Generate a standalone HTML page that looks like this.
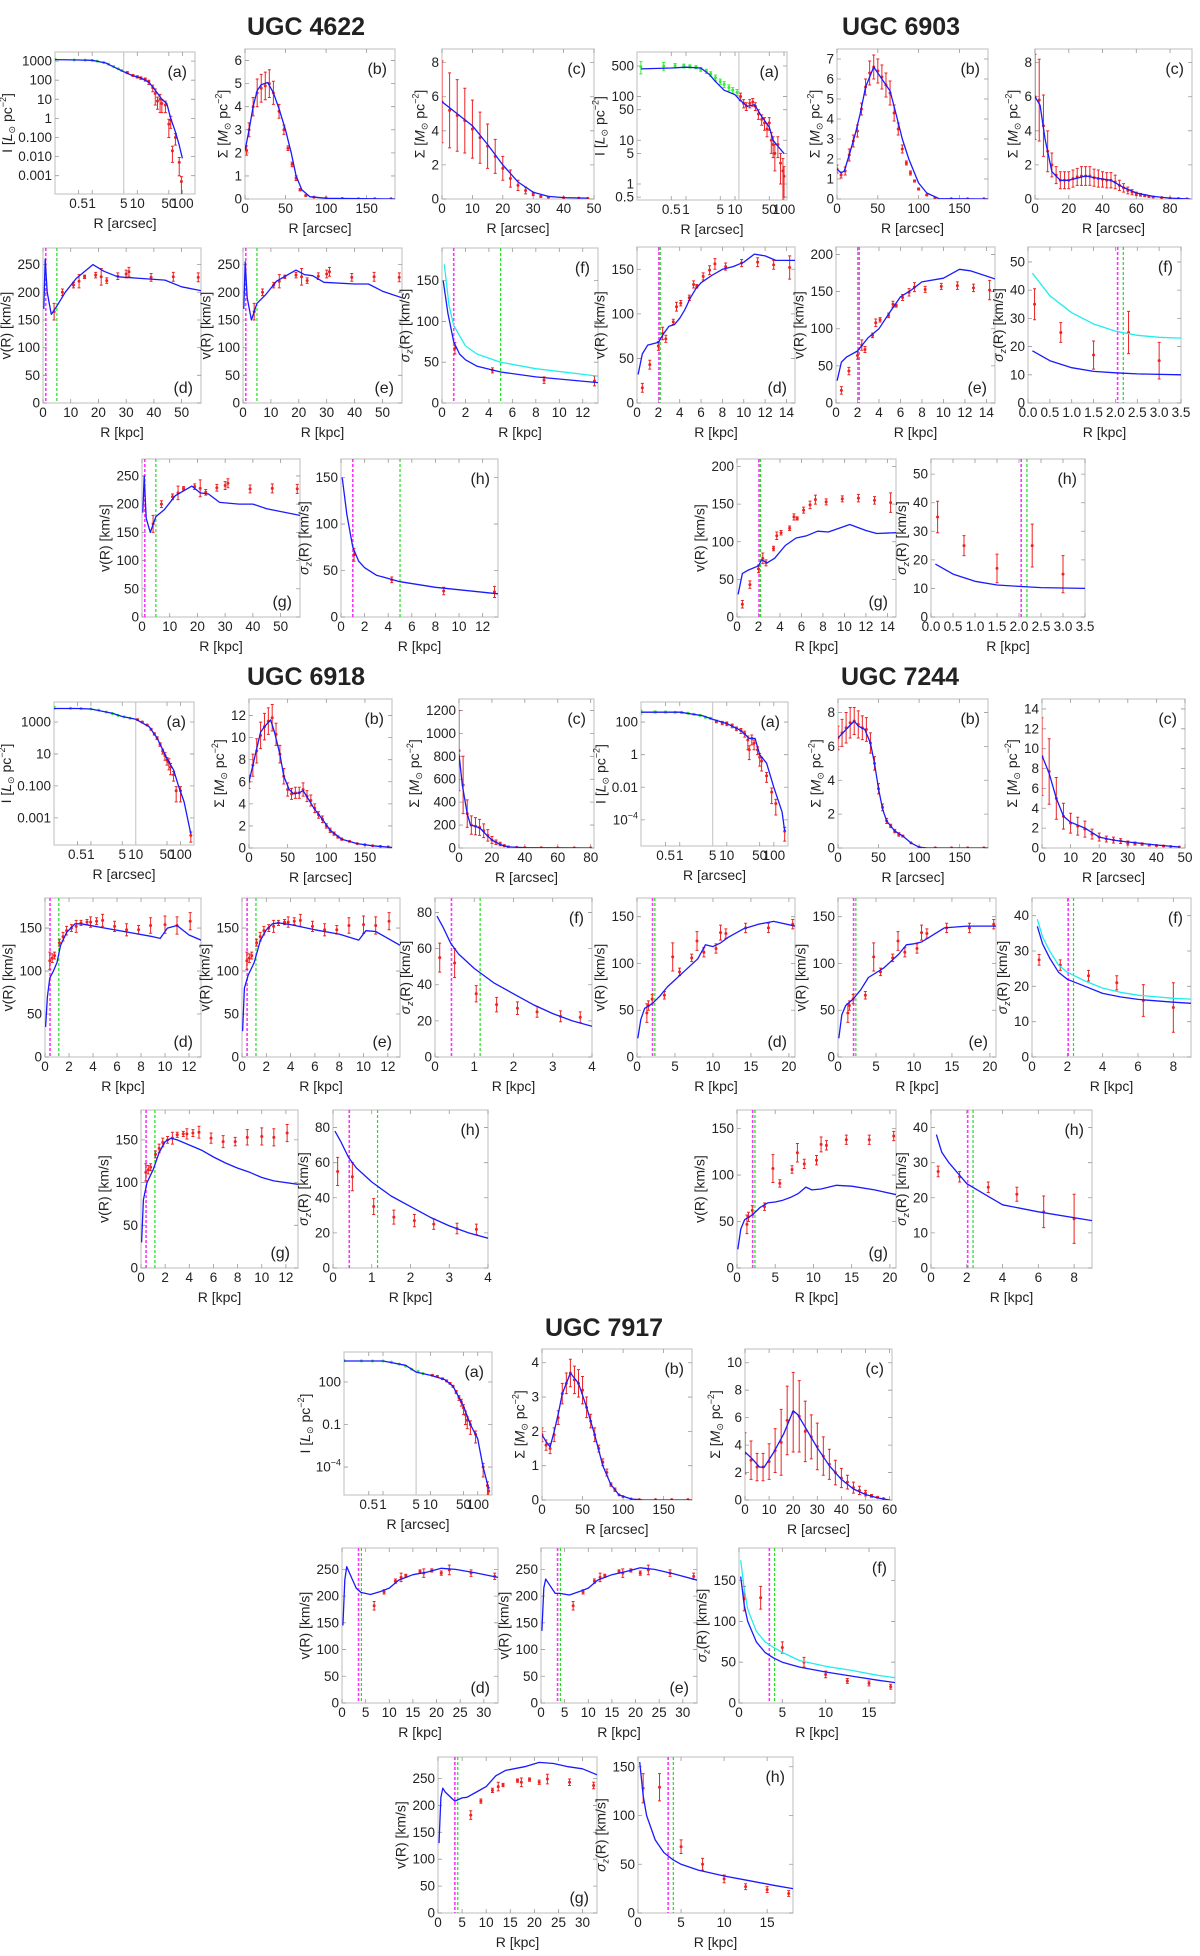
<!DOCTYPE html>
<html><head><meta charset="utf-8">
<style>
html,body{margin:0;padding:0;background:#fff;}
svg text{font-family:"Liberation Sans",sans-serif;fill:#222;}
</style></head>
<body>
<svg id="fig" width="1200" height="1951" viewBox="0 0 1200 1951" xmlns="http://www.w3.org/2000/svg">
<text x="306" y="35" text-anchor="middle" font-size="25" font-weight="bold">UGC 4622</text>
<text x="901" y="35" text-anchor="middle" font-size="25" font-weight="bold">UGC 6903</text>
<text x="306" y="685" text-anchor="middle" font-size="25" font-weight="bold">UGC 6918</text>
<text x="900" y="685" text-anchor="middle" font-size="25" font-weight="bold">UGC 7244</text>
<text x="604" y="1336" text-anchor="middle" font-size="25" font-weight="bold">UGC 7917</text>
</svg>
<script>
// ===== DATA =====
// UGC 4622
const A4622_blue=[[0.15,1200],[0.5,1150],[1,1100],[2,800],[3,500],[5,280],[8,170],[12,130],[18,80],[25,30],[35,10],[45,6],[55,1],[70,0.2],[85,0.04],[100,0.008]];
const A4622_green=[[0.15,1250,150],[0.4,1150,0],[0.7,1120,0],[1,1100,0],[1.3,1000,0],[1.8,850,0],[2.3,700,0],[3,520,0],[3.8,400,0],[4.5,320,0]];
const A4622_red=[[6,250,30],[8,180,20],[10,150,20],[12,130,20],[15,110,20],[18,80,20],[22,40,15],[25,20,15],[28,8,5],[32,10,8],[35,6,4],[42,5,3],[50,0.5,0.4],[55,0.8,0.5],[60,0.02,0.015],[70,0.1,0.06],[85,0.005,0.004],[95,0.0005,0.0004]];
const B4622_blue=[[0,2.1],[5,3],[10,4],[15,4.7],[20,4.95],[28,5.05],[35,4.6],[42,3.9],[50,3],[57,2],[63,1],[70,0.4],[80,0.1],[100,0.03],[185,0]];
const B4622_pts=[[2,2.1,0.2],[5,3,0.3],[10,4,0.4],[15,4.6,0.6],[20,4.8,0.6],[25,4.9,0.6],[30,5,0.6],[35,4.6,0.5],[42,3.8,0.3],[48,3,0.2],[53,2.2,0.1],[58,1.5,0.1],[63,0.9,0.1],[68,0.4,0.05],[75,0.15,0.03],[85,0.08,0.01],[100,0.05,0],[120,0.02,0],[140,0.01,0],[160,0.01,0],[180,0.01,0]];
const C4622_blue=[[0,5.7],[5,5],[10,4.3],[15,3.2],[20,2],[25,1],[30,0.4],[35,0.15],[40,0.08],[48,0.05]];
const C4622_pts=[[0,5.7,2.4],[2.5,5.2,2.2],[5,4.9,2.1],[7.5,4.6,1.9],[10,4.1,1.7],[12.5,3.6,1.5],[15,3.1,1.3],[17.5,2.5,1],[20,1.8,0.7],[22.5,1.2,0.5],[25,0.8,0.3],[27.5,0.5,0.2],[30,0.3,0.1],[32.5,0.15,0.05],[35,0.1,0.03],[40,0.08,0],[45,0.05,0],[48,0.04,0]];
const D4622_blue=[[0.3,170],[0.8,260],[1.5,200],[3,160],[5,175],[8,200],[12,225],[18,250],[22,238],[27,228],[35,225],[44,222],[50,210],[57,203]];
const E4622_blue=[[0.3,170],[0.8,255],[1.5,190],[3,150],[5,180],[8,195],[12,220],[19,240],[22,232],[25,230],[29,218],[40,215],[45,215],[50,202],[57,190]];
const G4622_blue=[[0.3,185],[0.8,250],[1.5,175],[3,150],[5,178],[8,190],[12,215],[18,232],[21,220],[24,218],[28,203],[35,200],[40,200],[45,192],[57,180]];
const V4622_pts=[[4,165,15],[7,200,6],[11,213,5],[13,220,12],[15,228,3],[19,231,5],[21,228,15],[23,221,5],[27,229,6],[30,233,7],[31,237,8],[39,227,7],[47,228,8],[56,227,8]];
const F4622_blue=[[0.1,150],[0.5,110],[1,75],[1.5,60],[2,53],[3,45],[5,38],[8,32],[13.3,25]];
const F4622_cyan=[[0.2,170],[0.6,120],[1,95],[2,70],[3,60],[5,50],[8,42],[13.3,33]];
const S4622_pts=[[1.1,67,7],[4.3,40,3],[8.7,28,4],[13,27,6]];
// UGC 6903
const A6903_blue=[[0.12,430],[0.5,450],[1,470],[2,450],[3,320],[4,220],[6,140],[10,110],[13,80],[18,60],[25,65],[35,35],[50,20],[60,10],[70,8],[100,5]];
const A6903_green=[[0.12,480,150],[0.35,500,100],[0.6,510,60],[0.9,500,50],[1.2,490,40],[1.6,470,40],[2,420,40],[2.6,380,40],[3.2,330,40],[4,270,40],[5,220,30],[6,190,30],[7.5,160,25],[9,140,20],[11,125,20]];
const A6903_red=[[13,100,20],[15,70,15],[17,60,12],[20,70,15],[23,75,15],[26,60,12],[30,40,10],[35,30,8],[40,25,8],[45,18,6],[50,25,8],[55,10,5],[60,8,4],[65,5,3],[75,8,4],[85,3,2],[95,2,1.8],[100,1.5,1]];
const B6903_blue=[[0,1.5],[5,1.3],[9,1.4],[15,2.2],[22,3.2],[28,4.2],[35,5.6],[45,6.6],[55,6],[65,5.4],[72,4.3],[80,3],[88,2],[100,0.8],[110,0.3],[125,0.02],[185,0]];
const B6903_pts=[[0,1.5,0.2],[5,1.2,0.15],[10,1.4,0.2],[15,2.2,0.3],[20,2.9,0.3],[25,3.4,0.3],[30,4.5,0.3],[35,5.6,0.4],[40,6.3,0.6],[45,6.6,0.6],[50,6.4,0.6],[55,6.1,0.6],[60,5.7,0.6],[65,5.3,0.6],[70,4.3,0.4],[75,3.5,0.3],[80,2.5,0.2],[85,1.8,0.1],[90,1.3,0.1],[95,0.9,0.05],[100,0.5,0.05],[110,0.2,0.03],[120,0.05,0],[140,0.01,0],[160,0.01,0],[180,0.01,0]];
const C6903_blue=[[0,6],[3,5.5],[6,3.5],[10,1.6],[15,1.1],[20,1.1],[30,1.35],[38,1.2],[45,1.1],[52,0.7],[60,0.35],[70,0.15],[80,0.05],[92,0]];
const C6903_pts=[[0,6,2.5],[2.5,5.8,2.4],[5,4.3,1.8],[7.5,2.8,1.2],[10,2,0.7],[12.5,1.4,0.5],[15,1.1,0.5],[17.5,1.1,0.5],[20,1.1,0.5],[22.5,1.2,0.5],[25,1.3,0.5],[27.5,1.35,0.55],[30,1.35,0.55],[32.5,1.35,0.55],[35,1.25,0.5],[37.5,1.2,0.5],[40,1.15,0.45],[42.5,1.1,0.45],[45,1.1,0.45],[47.5,1,0.4],[50,0.8,0.3],[52.5,0.65,0.25],[55,0.5,0.2],[57.5,0.4,0.15],[60,0.3,0.1],[62.5,0.25,0.08],[65,0.2,0.06],[67.5,0.15,0.05],[70,0.12,0.04],[75,0.08,0],[80,0.05,0],[85,0.03,0],[90,0.01,0]];
const D6903_blue=[[0.1,32],[0.5,55],[1,65],[2,68],[2.5,78],[3,86],[3.5,88],[4,95],[4.5,105],[5,118],[5.5,128],[6,135],[7,143],[8,150],[9,153],[10,158],[11,167],[12,165],[13,160],[14.8,160]];
const E6903_blue=[[0.1,30],[0.5,55],[1,62],[2,70],[3,88],[4,100],[5,122],[6,143],[7,152],[8,163],[10,168],[11.5,180],[12.5,178],[14.8,167]];
const G6903_blue=[[0.1,30],[0.5,58],[1,62],[2,68],[2.3,76],[2.8,72],[3.5,78],[4.5,95],[5.5,105],[6.5,108],[7.5,114],[8.5,113],[10.5,123],[12,115],[13,111],[14.8,112]];
const V6903_pts=[[0.5,17,5],[1.2,43,5],[2,64,5],[2.4,78,7],[2.7,72,4],[3.4,91,3],[3.7,108,5],[4.1,112,3],[4.9,118,3],[5.3,133,4],[5.6,131,2],[6.2,142,4],[6.8,149,5],[7.3,156,6],[8.3,153,4],[9.8,157,4],[11.3,158,5],[12.8,155,5],[14.3,152,13]];
const F6903_blue=[[0.1,18.5],[0.5,15],[1,12.5],[1.5,11.2],[2,10.7],[2.5,10.3],[3.5,10]];
const F6903_cyan=[[0.1,46],[0.5,38],[1,32],[1.5,28],[2,25.5],[2.5,24],[3,23.3],[3.5,23]];
const S6903_pts=[[0.15,35,5.5],[0.75,25,3.5],[1.5,17,5],[2.3,25,7.5],[3,15,6.5]];
// UGC 6918
const A6918_blue=[[0.15,7000],[0.5,7000],[1,6500],[3,3500],[5,2200],[10,1500],[20,500],[30,100],[50,5],[70,1],[90,0.1],[120,0.01],[170,0.0001]];
const A6918_green=[[0.15,8000,1500],[0.35,7200,0],[0.6,7000,0],[1,6500,0],[1.5,5500,0],[2.2,4200,0],[3,3400,0],[4,2600,0],[5.5,2100,0],[7.5,1700,0]];
const A6918_red=[[11,1400,100],[14,1000,100],[18,650,60],[22,350,40],[26,180,30],[30,100,20],[35,40,10],[40,15,5],[45,8,4],[50,4,2],[55,3,2],[60,1.5,1],[70,0.5,0.3],[80,0.05,0.04],[100,0.05,0.04],[170,0.00008,0.00005]];
const B6918_blue=[[0,6],[5,7.5],[10,9],[15,10.5],[20,11],[28,11.6],[33,10.5],[40,8.5],[45,6.5],[52,5.3],[58,4.9],[65,5],[70,5.2],[78,4.3],[85,3.5],[95,2.6],[105,1.6],[120,0.8],[140,0.4],[160,0.2],[185,0.05]];
const B6918_pts=[[0,6,0.6],[5,7.5,1],[10,8.8,1.1],[15,10.2,1.2],[20,11,1.2],[25,11.5,1.2],[30,11.8,1.2],[35,10.3,1],[40,8.5,0.8],[45,6.5,0.7],[50,5.3,0.6],[55,4.9,0.5],[60,5,0.5],[65,5,0.5],[70,5.3,0.6],[75,4.7,0.5],[80,4.3,0.5],[85,3.6,0.4],[90,3,0.3],[95,2.6,0.3],[100,2,0.2],[105,1.6,0.2],[110,1.3,0.15],[115,1,0.1],[120,0.8,0.1],[130,0.6,0.05],[140,0.4,0],[150,0.3,0],[160,0.2,0],[170,0.15,0],[180,0.1,0]];
const C6918_blue=[[0,820],[2,550],[5,300],[7,200],[10,190],[13,170],[17,110],[20,70],[25,30],[30,10],[40,3],[80,0]];
const C6918_pts=[[0,850,350],[2.5,550,250],[5,300,120],[7.5,200,80],[10,190,75],[12.5,180,70],[15,150,60],[17.5,110,50],[20,70,30],[22.5,50,20],[25,35,15],[27.5,20,8],[30,10,5],[35,5,0],[40,3,0],[50,2,0],[60,1,0],[70,1,0],[80,1,0]];
const D6918_blue=[[0.05,35],[0.2,70],[0.4,92],[0.7,100],[1,110],[1.3,130],[1.8,145],[2.5,155],[3,155],[5,150],[7,145],[9,140],[9.6,138],[10.2,150],[11,153],[12,142],[13,136]];
const E6918_blue=[[0.05,30],[0.2,80],[0.5,95],[1,110],[1.5,135],[2,148],[2.5,155],[3,156],[4,154],[6,148],[8,143],[9.6,136],[10.2,147],[11,146],[13,130]];
const G6918_blue=[[0.05,30],[0.2,80],[0.5,100],[1,115],[1.5,135],[2,148],[2.5,152],[3,150],[4,144],[5,138],[6,130],[7,123],[8,117],[9,112],[10,106],[11,102],[13,98]];
const V6918_pts=[[0.4,112,10],[0.6,115,5],[0.8,118,4],[1.2,133,4],[1.5,140,5],[1.8,147,5],[2.2,150,4],[2.6,152,7],[3,156,3],[3.5,157,3],[3.8,157,6],[4.3,158,4],[4.8,159,7],[5.8,152,6],[6.8,148,7],[7.8,148,5],[8.8,153,9],[10,154,10],[11,153,10],[12.1,158,10]];
const F6918_blue=[[0.05,78],[0.2,72],[0.4,63],[0.6,57],[1,49],[1.5,41],[2,35],[2.5,29],[3,24],[3.5,20],[4,17]];
const S6918_pts=[[0.12,55,8],[0.5,52,8],[1.05,35,4.5],[1.57,29,4],[2.1,27,3.5],[2.6,25,3],[3.2,22.5,3],[3.7,22,3]];
// UGC 7244
const A7244_blue=[[0.15,400],[1,400],[3,250],[5,150],[10,80],[20,30],[30,10],[40,10],[50,1],[70,0.3],[100,0.01],[150,0.0003],[170,0.00002]];
const A7244_green=[[0.15,420,120],[0.3,420,60],[0.5,410,50],[0.8,400,40],[1.1,390,40],[1.5,350,40],[2,300,30],[2.7,260,30],[3.5,200,25],[4.5,170,20]];
const A7244_red=[[6,110,20],[8,90,20],[10,80,20],[13,60,15],[16,40,10],[20,30,10],[24,20,8],[28,8,6],[30,2,1.5],[34,10,6],[38,5,3],[45,2,1],[50,0.7,0.5],[55,0.4,0.3],[70,0.05,0.03],[90,0.005,0.004],[110,0.001,0.0008],[170,0.00002,0.000015]];
const B7244_blue=[[0,6.5],[10,7],[20,7.5],[25,7.2],[33,7],[40,6.2],[45,5],[50,3.5],[55,2.3],[60,1.6],[70,1],[80,0.7],[90,0.3],[100,0.05],[110,0],[185,0]];
const B7244_pts=[[0,6.5,0.7],[5,6.8,0.8],[10,7.1,0.9],[15,7.4,0.9],[20,7.5,0.8],[25,7.3,0.8],[30,7.1,0.7],[35,7,0.7],[40,6.2,0.6],[45,5,0.4],[50,3.5,0.3],[55,2.4,0.2],[60,1.6,0.15],[65,1.3,0.1],[70,1,0.1],[75,0.8,0.1],[80,0.7,0.05],[90,0.3,0],[100,0.05,0],[120,0.01,0],[140,0.01,0],[160,0.01,0],[180,0.01,0]];
const C7244_blue=[[0,9.3],[2.5,7.5],[5,5],[7.5,3.2],[10,2.6],[15,2],[20,1.1],[25,0.8],[30,0.6],[40,0.3],[48,0.1]];
const C7244_pts=[[0,9.2,3.9],[2.5,7.7,3.3],[5,5,2.1],[7.5,3.2,1.3],[10,2.5,1],[12.5,2.2,0.9],[15,1.9,0.8],[17.5,1.4,0.5],[20,1.1,0.4],[22.5,0.9,0.3],[25,0.8,0.3],[27.5,0.7,0.25],[30,0.5,0.2],[32.5,0.45,0.15],[35,0.4,0.12],[37.5,0.3,0.1],[40,0.25,0.08],[42.5,0.2,0.06],[45,0.15,0],[48,0.1,0]];
const D7244_blue=[[0.1,20],[0.5,40],[1,52],[2,57],[3,65],[4,75],[6,90],[8,105],[9,120],[10,118],[11,122],[12,128],[14,137],[16,142],[18,145],[20.8,140]];
const E7244_blue=[[0.1,20],[0.5,45],[1,55],[2,62],[3,72],[4,85],[6,95],[8,110],[9,120],[10,121],[11,123],[12,128],[14,138],[17,140],[20.8,140]];
const G7244_blue=[[0.1,20],[0.5,42],[1,52],[2,57],[3,65],[4,70],[5,71],[6,73],[7,76],[8,80],[9,87],[9.8,84],[11,85],[13,89],[15,88],[18,84],[20.8,79]];
const V7244_pts=[[1.3,47,10],[1.5,55,5],[2,62,5],[3.6,66,4],[4.7,107,15],[5.6,91,4],[7.2,106,4],[7.9,124,10],[8.8,112,5],[10.4,116,5],[11,133,8],[11.7,132,5],[14.3,138,5],[17.3,138,5],[20.5,142,5]];
const F7244_blue=[[0.3,37],[0.6,32],[1,28],[1.5,24],[2,22],[3,20],[4,18],[5,17],[6,16.3],[8,15.5],[9,15.2]];
const F7244_cyan=[[0.3,39],[0.6,34],[1,30],[1.5,26],[2,24],[3,21.5],[4,19.5],[5,18.3],[6,17.5],[8,16.6],[9,16.4]];
const H7244_blue=[[0.3,38],[0.6,33],[1,30],[2,24],[3,21],[4,18],[6,16],[9,13.5]];
const S7244_pts=[[0.4,27.5,1.5],[1.6,26,1.5],[3.2,23,1.5],[4.8,21,2],[6.3,16,4.5],[8,14,7]];
// UGC 7917
const A7917_blue=[[0.15,3000],[1,3000],[3,1500],[5,500],[10,300],[20,150],[30,50],[50,2],[70,0.1],[100,0.01],[130,0.0001],[170,0.000003]];
const A7917_green=[[0.15,3200,500],[0.35,3100,0],[0.6,3000,0],[1,3000,0],[1.5,2500,0],[2.2,1800,0],[3,1300,0],[4,800,0],[5.5,550,0],[7,400,0]];
const A7917_red=[[11,300,30],[14,250,30],[18,170,20],[22,120,15],[26,80,10],[30,50,8],[35,20,5],[40,8,3],[45,4,2],[50,1.5,1],[55,0.5,0.4],[60,0.2,0.15],[70,0.1,0.08],[90,0.02,0.015],[130,0.0001,0.00008],[160,0.000005,0.000004],[170,0.000002,0.0000015]];
const B7917_blue=[[0,1.9],[5,1.7],[10,1.55],[15,2],[20,2.5],[25,3.1],[35,3.7],[45,3.4],[55,2.7],[65,1.9],[75,1],[85,0.45],[95,0.15],[110,0.03],[125,0],[185,0]];
const B7917_pts=[[0,1.9,0.2],[5,1.6,0.15],[10,1.5,0.15],[15,1.9,0.2],[20,2.4,0.2],[25,3.1,0.3],[30,3.4,0.3],[35,3.7,0.4],[40,3.5,0.4],[45,3.4,0.4],[50,3.2,0.4],[55,2.7,0.3],[60,2.3,0.2],[65,1.9,0.2],[70,1.5,0.1],[75,1.1,0.1],[80,0.8,0.1],[85,0.45,0.05],[90,0.3,0.05],[95,0.15,0],[100,0.1,0],[110,0.03,0],[120,0.01,0],[140,0.01,0],[160,0.01,0],[180,0.01,0]];
const C7917_blue=[[0,3.5],[3,3],[6,2.4],[8,2.4],[12,3.5],[16,4.8],[20,6.5],[22,6.2],[26,5],[30,3.8],[35,2.5],[40,1.5],[45,0.8],[50,0.4],[55,0.15],[60,0]];
const C7917_pts=[[0,3.4,1.5],[2.5,2.9,1.4],[5,2.4,1],[7.5,2.4,1],[10,2.8,1.3],[12.5,3.6,1.6],[15,4.2,2.4],[17.5,5.8,2.5],[20,6.4,2.9],[22.5,6.1,2.6],[25,5,2.2],[27.5,4.6,1.6],[30,3.9,1.7],[32.5,3.2,1.4],[35,2.6,1.1],[37.5,2,0.9],[40,1.6,0.7],[42.5,1.3,0.5],[45,0.9,0.4],[47.5,0.7,0.3],[50,0.5,0.2],[52.5,0.3,0.1],[55,0.2,0.05],[57.5,0.1,0]];
const D7917_blue=[[0.2,145],[0.6,230],[1,255],[1.5,245],[3,215],[4,207],[6,203],[8,208],[10,215],[12,230],[15,240],[18,245],[21,252],[24,250],[28,244],[33,235]];
const E7917_blue=[[0.2,135],[0.6,215],[1,232],[1.5,225],[3,205],[4,205],[6,202],[8,208],[10,215],[12,230],[15,240],[18,246],[21,253],[24,250],[28,242],[33,230]];
const G7917_blue=[[0.2,130],[0.6,215],[1,232],[1.5,225],[3,212],[3.5,208],[5,214],[6,215],[8,225],[10,235],[12,255],[14,265],[18,272],[21,280],[24,278],[27,272],[30,268],[33,257]];
const V7917_pts=[[6.8,182,8],[8.9,208,4],[11.3,228,4],[12.5,235,8],[13.5,238,3],[16.5,246,3],[17.3,243,8],[19,248,3],[21,243,4],[22.7,249,9],[27.3,243,6],[32.3,237,6]];
const F7917_blue=[[0.2,155],[0.6,120],[1,100],[2,75],[3,62],[4,55],[5,50],[7,44],[10,38],[13,33],[16,28],[18,25]];
const F7917_cyan=[[0.2,175],[0.6,140],[1,115],[2,88],[3,75],[4,68],[5,62],[7,52],[10,45],[13,40],[16,34],[18,31]];
const S7917_pts=[[0.6,128,15],[2.5,129,14],[5,68,7],[7.5,50,6],[10,35,4],[12.5,27,3],[15,24,3],[17.5,20,3]];

// tick label arrays
const logXticks=[0.5,1,5,10,50,100];
const yt4622a=[1000,100,10,1,0.1,0.01,0.001];
const yt4622aL=["1000","100","10","1","0.100","0.010","0.001"];
const yt6903a=[500,100,50,10,5,1,0.5];
const yt6903aL=["500","100","50","10","5","1","0.5"];
const yt6918a=[1000,10,0.1,0.001];
const yt6918aL=["1000","10","0.100","0.001"];
const yt7244a=[100,1,0.01,0.0001];
const yt7244aL=["100","1","0.01","10^-4"];
const yt7917a=[100,0.1,0.0001];
const yt7917aL=["100","0.1","10^-4"];

// ===== RENDERING =====
const NS='http://www.w3.org/2000/svg';
const svg=document.getElementById('fig');
function mk(tag,attrs,parent){const e=document.createElementNS(NS,tag);for(const k in attrs)e.setAttribute(k,attrs[k]);(parent||svg).appendChild(e);return e;}
function rng(a,b,s){const r=[];for(let v=a;v<=b+1e-9;v+=s)r.push(+v.toFixed(6));return r;}

function panel(name,box,o){
  const [x0,y0,x1,y1]=box;
  const g=mk('g',{});
  
  
  const lx=o.logx, ly=o.logy;
  const fx=v=>lx?Math.log10(v):v, fy=v=>ly?Math.log10(Math.max(v,1e-12)):v;
  const X=v=>x0+(fx(v)-fx(o.xr[0]))/(fx(o.xr[1])-fx(o.xr[0]))*(x1-x0);
  const Y=v=>y1-(fy(v)-fy(o.yr[0]))/(fy(o.yr[1])-fy(o.yr[0]))*(y1-y0);
  const fr=mk('rect',{x:x0,y:y0,width:x1-x0,height:y1-y0,fill:'none',stroke:'#c8c8c8','stroke-width':1.2},g);
  
  
  let tp='';
  o.xt.forEach(v=>{const x=X(v);tp+=`M${x},${y1}v-4M${x},${y0}v4`;});
  o.yt.forEach(v=>{const y=Y(v);tp+=`M${x0},${y}h4M${x1},${y}h-4`;});
  mk('path',{d:tp,stroke:'#999','stroke-width':0.8,fill:'none'},g);
  if(o.gray!==undefined) mk('line',{x1:X(o.gray),x2:X(o.gray),y1:y0,y2:y1,stroke:'#ccc','stroke-width':1.2},g);
  o.xt.forEach((v,i)=>{const t=mk('text',{x:X(v),y:y1+14,'font-size':13.5,'text-anchor':'middle'},g);t.textContent=o.xtl?o.xtl[i]:String(v);});
  let maxw=0;
  o.yt.forEach((v,i)=>{const s=o.ytl?o.ytl[i]:String(v);const t=mk('text',{x:x0-3,y:Y(v)+4.5,'font-size':13.5,'text-anchor':'end'},g);
    if(s.indexOf('^')>0){const p=s.split('^');t.textContent=p[0];const sp=mk('tspan',{'font-size':9,dy:-6},t);sp.textContent=p[1].replace('-','−');maxw=Math.max(maxw,24);}
    else{t.textContent=s;maxw=Math.max(maxw,s.replace('.','').length*7.5+(s.indexOf('.')>=0?3:0));}});
  const xl=mk('text',{x:(x0+x1)/2,y:y1+34,'font-size':14,'text-anchor':'middle'},g);
  xl.textContent=o.xlab;
  
  
  const yx=x0-maxw-10, yc=(y0+y1)/2;
  const yl=mk('text',{x:yx,y:yc,'font-size':14,'text-anchor':'middle',transform:`rotate(-90 ${yx} ${yc})`},g);
  
  
  if(o.ykind==='I'){yl.textContent='I [';const a=mk('tspan',{'font-style':'italic'},yl);a.textContent='L';const b=mk('tspan',{'font-size':9,dy:3},yl);b.textContent='⊙';const c=mk('tspan',{dy:-3},yl);c.textContent=' pc';const d=mk('tspan',{'font-size':9,dy:-6},yl);d.textContent='−2';const e=mk('tspan',{dy:6},yl);e.textContent=']';}
  else if(o.ykind==='S'){yl.textContent='Σ [';const a=mk('tspan',{'font-style':'italic'},yl);a.textContent='M';const b=mk('tspan',{'font-size':9,dy:3},yl);b.textContent='⊙';const c=mk('tspan',{dy:-3},yl);c.textContent=' pc';const d=mk('tspan',{'font-size':9,dy:-6},yl);d.textContent='−2';const e=mk('tspan',{dy:6},yl);e.textContent=']';}
  else if(o.ykind==='V'){yl.textContent='v(R) [km/s]';}
  else {const a=mk('tspan',{'font-style':'italic'},yl);a.textContent='σ';const b=mk('tspan',{'font-size':9,dy:3,'font-style':'italic'},yl);b.textContent='z';const c=mk('tspan',{dy:-3},yl);c.textContent='(R) [km/s]';}
  const cid='c'+name;
  const cp=mk('clipPath',{id:cid},g);mk('rect',{x:x0,y:y0,width:x1-x0,height:y1-y0},cp);
  const pg=mk('g',{'clip-path':`url(#${cid})`},g);
  (o.vl||[]).forEach(v=>{const l=mk('line',{x1:X(v[0]),x2:X(v[0]),y1:y0,y2:y1,stroke:v[1],'stroke-width':v[1]==='#ff33ff'?1.6:1.2,'stroke-dasharray':'3,2'},pg);
    
    });
  function pts(arr,col,nm){let d='';arr.forEach(p=>{const x=X(p[0]);const ya=Y(p[1]+p[2]);let yb=Y(Math.max(p[1]-p[2],ly?p[1]*0.02:-1e9));if(!isFinite(yb))yb=y1+5;
      if(p[2]>0)d+=`M${x},${ya}V${yb}M${x-1.5},${ya}h3M${x-1.5},${yb}h3`;});
    const pe=mk('path',{d:d,stroke:col,'stroke-width':1,fill:'none'},pg);
    
    
    arr.forEach(p=>{const c=mk('circle',{cx:X(p[0]),cy:Y(p[1]),r:1.5,fill:col},pg);
      
      });}
  (o.pts||[]).forEach(s=>pts(s[0],s[1],s[2]));
  (o.curves||[]).forEach(c=>{const d=c[0].map((p,i)=>(i?'L':'M')+X(p[0]).toFixed(1)+','+Y(p[1]).toFixed(1)).join('');
    const pl=mk('path',{d:d,stroke:c[1],'stroke-width':1.3,fill:'none','stroke-linejoin':'round'},pg);
    
    });
  const lt=mk('text',{x:x1-8,y:o.lb==='bottom'?y1-10:y0+25,'font-size':16,'text-anchor':'end'},g);
  lt.textContent='('+o.label+')';
  
  
}

const M='#ff33ff', G='#22dd22', B='#1a1aff', CY='#22eeee', R='#ee2222', GR='#33ee33';
function galaxy(id,boxes,d){
  panel(id+'-panel-a',boxes.a,{logx:1,logy:1,xr:d.axr,yr:d.ayr,xt:logXticks,yt:d.ayt,ytl:d.aytl,gray:d.gray,xlab:'R [arcsec]',ykind:'I',label:'a',
    pts:[[d.ag,GR,'green-data'],[d.ar,R,'red-data']],curves:[[d.ab,B,'model-curve']]});
  panel(id+'-panel-b',boxes.b,{xr:[0,185],yr:d.byr,xt:[0,50,100,150],yt:d.byt,xlab:'R [arcsec]',ykind:'S',label:'b',pts:[[d.bp,R,'red-data']],curves:[[d.bb,B,'model-curve']]});
  panel(id+'-panel-c',boxes.c,{xr:d.cxr,yr:d.cyr,xt:d.cxt,yt:d.cyt,xlab:'R [arcsec]',ykind:'S',label:'c',pts:[[d.cp,R,'red-data']],curves:[[d.cb,B,'model-curve']]});
  panel(id+'-panel-d',boxes.d,{xr:d.vxr,yr:d.vyr,xt:d.vxt,yt:d.vyt,xlab:'R [kpc]',ykind:'V',label:'d',lb:'bottom',vl:[[d.mg,M],[d.gn,G]],pts:[[d.vp,R,'red-data']],curves:[[d.db,B,'model-curve']]});
  panel(id+'-panel-e',boxes.e,{xr:d.vxr,yr:d.eyr||d.vyr,xt:d.vxt,yt:d.eyt||d.vyt,xlab:'R [kpc]',ykind:'V',label:'e',lb:'bottom',vl:[[d.mg,M],[d.gn,G]],pts:[[d.vp,R,'red-data']],curves:[[d.eb,B,'model-curve']]});
  panel(id+'-panel-f',boxes.f,{xr:d.sxr,yr:d.syr,xt:d.sxt,xtl:d.sxtl,yt:d.syt,xlab:'R [kpc]',ykind:'Z',label:'f',vl:[[d.mg,M],[d.gn,G]],pts:[[d.sp,R,'red-data']],curves:(d.fc?[[d.fc,CY,'cyan-curve']]:[]).concat([[d.fb,B,'model-curve']])});
  panel(id+'-panel-g',boxes.g,{xr:d.vxr,yr:d.gyr||d.vyr,xt:d.vxt,yt:d.gyt||d.vyt,xlab:'R [kpc]',ykind:'V',label:'g',lb:'bottom',vl:[[d.mg,M],[d.gn,G]],pts:[[d.vp,R,'red-data']],curves:[[d.gb,B,'model-curve']]});
  panel(id+'-panel-h',boxes.h,{xr:d.sxr,yr:d.hyr||d.syr,xt:d.sxt,xtl:d.sxtl,yt:d.hyt||d.syt,xlab:'R [kpc]',ykind:'Z',label:'h',vl:[[d.mg,M],[d.gn,G]],pts:[[d.sp,R,'red-data']],curves:[[d.hb||d.fb,B,'model-curve']]});
}
const halfT=['0.0','0.5','1.0','1.5','2.0','2.5','3.0','3.5'];
galaxy('ugc4622',{a:[55,52,195,194],b:[245,49,395,199],c:[442,49,594,199],d:[43,248,201,403],e:[243,248,402,403],f:[442,248,598,403],g:[142,459,300,617],h:[341,459,498,617]},
 {axr:[0.15,190],ayr:[0.00011,3000],ayt:yt4622a,aytl:yt4622aL,gray:5,ab:A4622_blue,ag:A4622_green,ar:A4622_red,
  byr:[0,6.5],byt:rng(0,6,1),bb:B4622_blue,bp:B4622_pts,cxr:[0,50],cyr:[0,8.8],cxt:rng(0,50,10),cyt:rng(0,8,2),cb:C4622_blue,cp:C4622_pts,
  vxr:[0,57],vyr:[0,280],vxt:rng(0,50,10),vyt:rng(0,250,50),mg:1,gn:5,vp:V4622_pts,db:D4622_blue,eb:E4622_blue,gb:G4622_blue,
  sxr:[0,13.3],syr:[0,190],sxt:rng(0,12,2),syt:rng(0,150,50),hyr:[0,170],sp:S4622_pts,fb:F4622_blue,fc:F4622_cyan});
galaxy('ugc6903',{a:[637,52,787,200],b:[837,49,988,199],c:[1035,49,1192,199],d:[637,247,795,403],e:[836,247,995,403],f:[1028,247,1181,403],g:[737,459,896,617],h:[931,459,1085,617]},
 {axr:[0.1,115],ayr:[0.43,1045],ayt:yt6903a,aytl:yt6903aL,gray:12,ab:A6903_blue,ag:A6903_green,ar:A6903_red,
  byr:[0,7.5],byt:rng(0,7,1),bb:B6903_blue,bp:B6903_pts,cxr:[0,93],cyr:[0,8.8],cxt:rng(0,80,20),cyt:rng(0,8,2),cb:C6903_blue,cp:C6903_pts,
  vxr:[0,14.8],vyr:[0,175],vxt:rng(0,14,2),vyt:rng(0,150,50),eyr:[0,210],eyt:rng(0,200,50),gyr:[0,210],gyt:rng(0,200,50),mg:2.05,gn:2.18,vp:V6903_pts,db:D6903_blue,eb:E6903_blue,gb:G6903_blue,
  sxr:[0,3.5],syr:[0,55.3],sxt:rng(0,3.5,0.5),sxtl:halfT,syt:rng(0,50,10),sp:S6903_pts,fb:F6903_blue,fc:F6903_cyan});
galaxy('ugc6918',{a:[54,702,194,845],b:[249,699,392,848],c:[459,699,594,848],d:[45,898,201,1057],e:[242,898,400,1057],f:[435,898,592,1057],g:[141,1110,298,1268],h:[333,1110,488,1268]},
 {axr:[0.15,200],ayr:[0.00002,17800],ayt:yt6918a,aytl:yt6918aL,gray:10,ab:A6918_blue,ag:A6918_green,ar:A6918_red,
  byr:[0,13.5],byt:rng(0,12,2),bb:B6918_blue,bp:B6918_pts,cxr:[0,82],cyr:[0,1300],cxt:rng(0,80,20),cyt:rng(0,1200,200),cb:C6918_blue,cp:C6918_pts,
  vxr:[0,13],vyr:[0,185],vxt:rng(0,12,2),vyt:rng(0,150,50),mg:0.42,gn:1.15,vp:V6918_pts,db:D6918_blue,eb:E6918_blue,gb:G6918_blue,
  sxr:[0,4],syr:[0,88],sxt:rng(0,4,1),syt:rng(0,80,20),hyr:[0,90],sp:S6918_pts,fb:F6918_blue});
galaxy('ugc7244',{a:[641,702,788,846],b:[838,699,988,848],c:[1042,699,1185,848],d:[637,898,795,1057],e:[838,898,996,1057],f:[1032,898,1191,1057],g:[737,1110,896,1268],h:[931,1110,1092,1268]},
 {axr:[0.15,200],ayr:[0.0000025,1700],ayt:yt7244a,aytl:yt7244aL,gray:5,ab:A7244_blue,ag:A7244_green,ar:A7244_red,
  byr:[0,8.8],byt:rng(0,8,2),bb:B7244_blue,bp:B7244_pts,cxr:[0,50],cyr:[0,15],cxt:rng(0,50,10),cyt:rng(0,14,2),cb:C7244_blue,cp:C7244_pts,
  vxr:[0,20.8],vyr:[0,170],vxt:rng(0,20,5),vyt:rng(0,150,50),mg:2.05,gn:2.35,vp:V7244_pts,db:D7244_blue,eb:E7244_blue,gb:G7244_blue,
  sxr:[0,9],syr:[0,45],sxt:rng(0,8,2),syt:rng(0,40,10),sp:S7244_pts,fb:F7244_blue,fc:F7244_cyan,hb:H7244_blue});
galaxy('ugc7917',{a:[344,1352,492,1495],b:[542,1349,692,1500],c:[745,1349,892,1500],d:[342,1548,498,1703],e:[541,1548,697,1703],f:[739,1548,895,1703],g:[438,1757,597,1913],h:[638,1757,793,1913]},
 {axr:[0.15,200],ayr:[0.00000107,13000],ayt:yt7917a,aytl:yt7917aL,gray:5,ab:A7917_blue,ag:A7917_green,ar:A7917_red,
  byr:[0,4.4],byt:rng(0,4,1),bb:B7917_blue,bp:B7917_pts,cxr:[0,61],cyr:[0,11],cxt:rng(0,60,10),cyt:rng(0,10,2),cb:C7917_blue,cp:C7917_pts,
  vxr:[0,33],vyr:[0,290],vxt:rng(0,30,5),vyt:rng(0,250,50),mg:3.5,gn:4.1,vp:V7917_pts,db:D7917_blue,eb:E7917_blue,gb:G7917_blue,
  sxr:[0,18],syr:[0,190],sxt:rng(0,15,5),syt:rng(0,150,50),hyr:[0,160],sp:S7917_pts,fb:F7917_blue,fc:F7917_cyan});
</script>
</body></html>
